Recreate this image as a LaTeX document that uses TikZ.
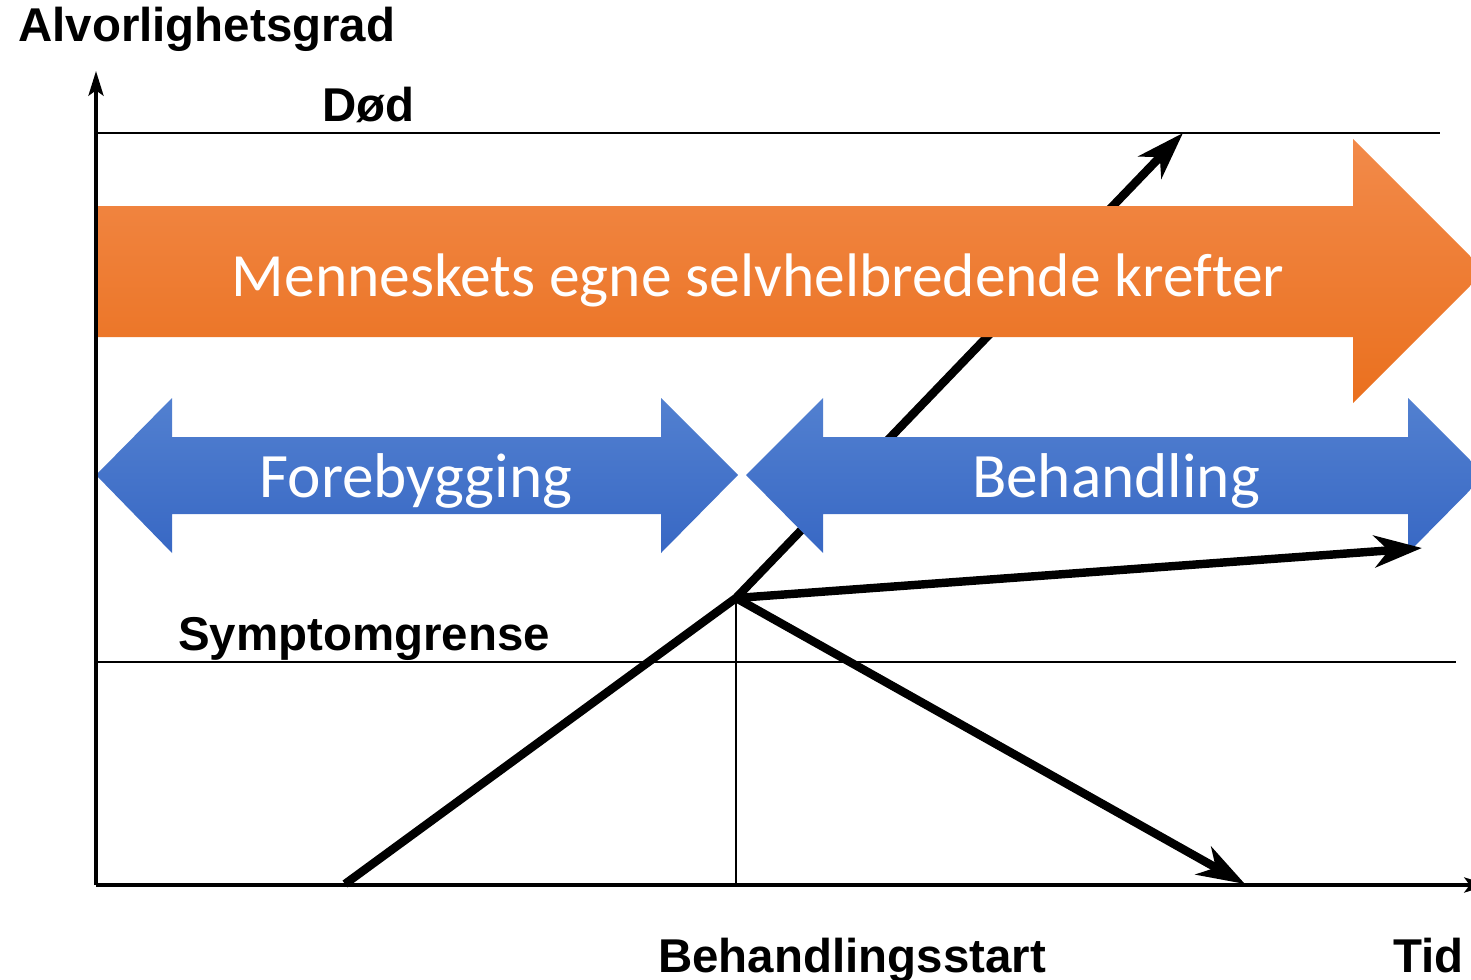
\documentclass[tikz,border=0pt]{standalone}
\usepackage{fontspec}
\setsansfont{Liberation Sans}
\newfontfamily\calibri[Ligatures=NoCommon]{Carlito}
\usetikzlibrary{arrows.meta,positioning}

\definecolor{orangetop}{RGB}{242,138,74}
\definecolor{orangebot}{RGB}{234,112,30}
\definecolor{bluetop}{RGB}{82,128,208}
\definecolor{bluebot}{RGB}{56,104,196}

\begin{document}
\begin{tikzpicture}[x=0.02cm,y=-0.02cm,
    axis/.style={line width=2.3pt,-{Stealth[length=14pt,width=8.5pt,inset=3pt]}},
    level/.style={line width=1.1pt},
    course/.style={line width=4.8pt,line join=miter},
    courseend/.style={course,-{Stealth[length=27pt,width=18pt,inset=8pt]}},
    lbl/.style={font=\sffamily\bfseries\fontsize{27}{32}\selectfont,anchor=base west,inner sep=0pt},
    bigtext/.style={font=\calibri\fontsize{36}{43}\selectfont,text=white,anchor=base,inner sep=0pt}]
  \useasboundingbox (0,0) rectangle (1471,980);
  \clip (0,0) rectangle (1471,980);

  \coordinate (origin)  at (96,885);
  \coordinate (ytop)    at (96,71);
  \coordinate (xend)    at (1489,885);
  \coordinate (dod_l)   at (98,133);
  \coordinate (dod_r)   at (1440,133);
  \coordinate (sym_l)   at (98,662);
  \coordinate (sym_r)   at (1456,662);
  \coordinate (start)   at (345,884);
  \coordinate (turn)    at (736,598);
  \coordinate (foot)    at (736,885);
  \coordinate (death)   at (1183,133);
  \coordinate (chronic) at (1422,548);
  \coordinate (healed)  at (1245,884);

  % levels
  \draw[level] (dod_l) -- (dod_r);
  \draw[level] (sym_l) -- (sym_r);
  \draw[level] (turn) -- (foot);

  % course without treatment
  \draw[courseend] (start) -- (turn) -- (death);

  % big arrows
  \shade[top color=orangetop,bottom color=orangebot]
    (95,206) -- (1353,206) -- (1353,139) -- (1485,271) -- (1353,403)
    -- (1353,337) -- (95,337) -- cycle;
  \shade[top color=bluetop,bottom color=bluebot]
    (96,475) -- (172,398) -- (172,437) -- (661,437) -- (661,398) -- (738,475)
    -- (661,553) -- (661,514) -- (172,514) -- (172,553) -- cycle;
  \shade[top color=bluetop,bottom color=bluebot]
    (746,475) -- (823,398) -- (823,437) -- (1408,437) -- (1408,398) -- (1485,475)
    -- (1408,553) -- (1408,514) -- (823,514) -- (823,553) -- cycle;

  \node[bigtext,font=\calibri\fontsize{35}{42}\selectfont] (menn) at (758,296)
    {Menneskets egne selvhelbredende krefter};
  \node[bigtext] (fore) at (416,497) {Forebygging};
  \node[bigtext] (beh)  at (1116,497) {Behandling};

  % courses after treatment start
  \draw[courseend] (turn) -- (chronic);
  \draw[courseend] (turn) -- (healed);

  % axes
  \draw[axis] (origin) -- (ytop);
  \draw[axis] (origin) -- (xend);

  % labels
  \node[lbl] (alv)    at (18,42)   {Alvorlighetsgrad};
  \node[lbl] (dod)    at (322,122) {Død};
  \node[lbl] (sym)    at (178,650) {Symptomgrense};
  \node[lbl] (bstart) at (658,972) {Behandlingsstart};
  \node[lbl] (tid)    at (1393,972) {Tid};
\end{tikzpicture}
\end{document}
